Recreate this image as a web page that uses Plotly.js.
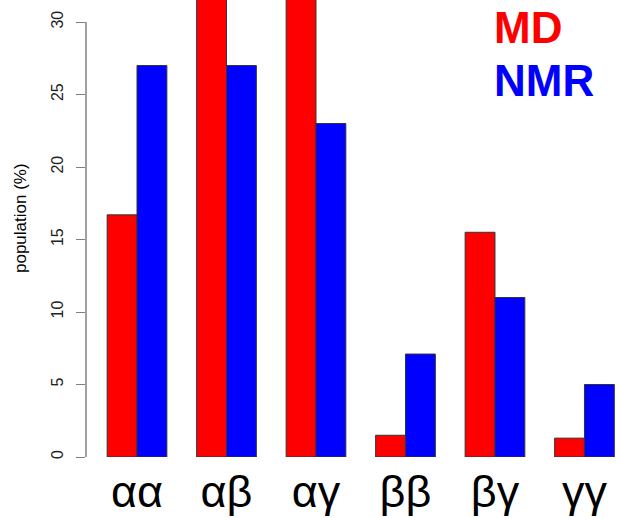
<!DOCTYPE html>
<html>
<head>
<meta charset="utf-8">
<script src="https://cdn.plot.ly/plotly-3.0.1.min.js"></script>
<style>html,body{margin:0;padding:0;background:#fff;}#chart{width:620px;height:518px;}</style>
</head>
<body>
<div id="chart"></div>
<script>
// Data
var categories = ['αα', 'αβ', 'αγ', 'ββ', 'βγ', 'γγ'];
var mdValues = [16.7, 35, 33, 1.5, 15.5, 1.3];
var nmrValues = [27, 27, 23, 7.1, 11, 5];
var yTicks = [0, 5, 10, 15, 20, 25, 30];
var seriesNames = ['MD', 'NMR'];
var yTitle = 'population (%)';

var W = 620, H = 518;
var L = 86, B = 457; // plot left edge / y=0 pixel
function py(p) { return (B - p) / B; }
function px(p) { return (p - L) / (W - L); }

var font = 'Liberation Sans, Arial, Helvetica, sans-serif';

var traces = [
  { type: 'bar', name: seriesNames[0], x: categories, y: mdValues,
    marker: { color: '#ff0000', line: { color: '#333333', width: 1 } }, hoverinfo: 'x+y' },
  { type: 'bar', name: seriesNames[1], x: categories, y: nmrValues,
    marker: { color: '#0000ff', line: { color: '#333333', width: 1 } }, hoverinfo: 'x+y' }
];

var layout = {
  width: W, height: H,
  margin: { l: L, r: 0, t: 0, b: H - B, pad: 0 },
  paper_bgcolor: '#ffffff', plot_bgcolor: '#ffffff',
  barmode: 'group', bargap: 0.333, bargroupgap: 0,
  showlegend: false,
  font: { family: font, color: '#000' },
  xaxis: {
    type: 'category',
    range: [-0.570, 5.397],
    showline: false, showgrid: false, zeroline: false, ticks: '',
    tickfont: { family: font, size: 45, color: '#000' },
    ticklabelstandoff: 4
  },
  yaxis: {
    range: [0, 31.52],
    showline: false, showgrid: false, zeroline: false,
    tickvals: yTicks, ticktext: yTicks.map(String),
    ticks: 'outside', ticklen: 9, tickcolor: '#808080', tickwidth: 1,
    tickangle: -90,
    ticklabelstandoff: 7,
    tickfont: { family: font, size: 16, color: '#222' }
  },
  shapes: [
    { type: 'line', xref: 'paper', yref: 'y', x0: 0, x1: 0, y0: 0, y1: 30,
      line: { color: '#808080', width: 1.5 } }
  ],
  annotations: [
    { xref: 'paper', yref: 'paper', x: px(20), y: py(218), xanchor: 'center', yanchor: 'middle',
      text: yTitle, textangle: -90, showarrow: false,
      font: { family: font, size: 17, color: '#000' } },
    { xref: 'paper', yref: 'paper', x: px(492), y: py(27), xanchor: 'left', yanchor: 'middle',
      text: '<b>' + seriesNames[0] + '</b>', showarrow: false,
      font: { family: font, size: 44, color: '#ff0000' } },
    { xref: 'paper', yref: 'paper', x: px(492), y: py(80), xanchor: 'left', yanchor: 'middle',
      text: '<b>' + seriesNames[1] + '</b>', showarrow: false,
      font: { family: font, size: 44, color: '#0000ff' } }
  ]
};

Plotly.newPlot('chart', traces, layout, { displayModeBar: false, staticPlot: true });
</script>
</body>
</html>
